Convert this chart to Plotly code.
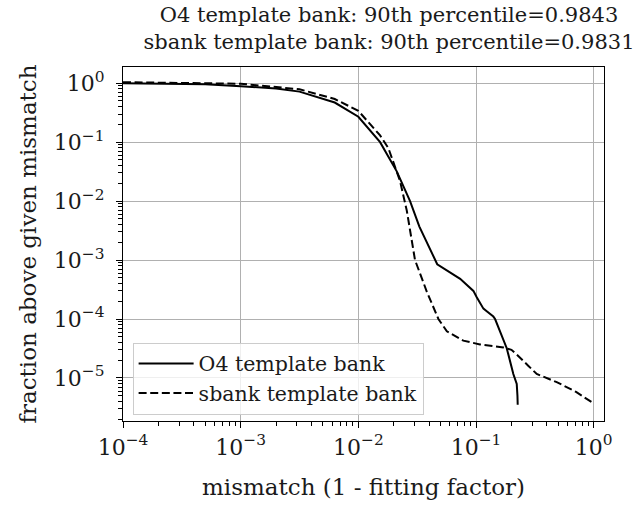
import plotly.graph_objects as go

# --- data (mismatch, fraction above) ---
o4_mismatch = [1.0e-4, 2.0e-4, 5.0e-4, 1.0e-3, 2.0e-3, 3.16e-3, 6.3e-3, 1.0e-2,
               0.0153, 0.0212, 0.0275, 0.033, 0.0407, 0.0468, 0.0733, 0.095,
               0.1014, 0.1156, 0.1233, 0.1403, 0.1452, 0.1824, 0.2075, 0.2218,
               0.2249, 0.226]
o4_fraction = [1.0, 0.99, 0.96, 0.89, 0.81, 0.72, 0.47, 0.27,
               0.10, 0.032, 0.010, 3.7e-3, 1.5e-3, 8.5e-4, 4.8e-4, 3.0e-4,
               2.35e-4, 1.5e-4, 1.35e-4, 1.1e-4, 1.0e-4, 3.2e-5, 1.17e-5, 7.9e-6,
               5.0e-6, 3.5e-6]

sbank_mismatch = [1.0e-4, 3.16e-4, 1.0e-3, 3.16e-3, 6.3e-3, 1.0e-2, 0.0153, 0.018,
                  0.0226, 0.0258, 0.0285, 0.0303, 0.0382, 0.0479, 0.0565, 0.078,
                  0.108, 0.171, 0.20, 0.222, 0.279, 0.328, 0.485, 0.708, 1.0]
sbank_fraction = [1.04, 1.02, 0.98, 0.79, 0.54, 0.34, 0.13, 0.079,
                  0.022, 6.9e-3, 1.9e-3, 1.0e-3, 2.9e-4, 1.0e-4, 6.2e-5, 4.3e-5,
                  3.7e-5, 3.3e-5, 3.0e-5, 2.5e-5, 1.6e-5, 1.17e-5, 8.5e-6, 5.8e-6, 3.7e-6]

x_ticks = [1e-4, 1e-3, 1e-2, 1e-1, 1e0]
x_tick_text = ["10<sup>−4</sup>", "10<sup>−3</sup>", "10<sup>−2</sup>", "10<sup>−1</sup>", "10<sup>0</sup>"]
y_ticks = [1e-5, 1e-4, 1e-3, 1e-2, 1e-1, 1e0]
y_tick_text = ["10<sup>−5</sup>", "10<sup>−4</sup>", "10<sup>−3</sup>", "10<sup>−2</sup>", "10<sup>−1</sup>", "10<sup>0</sup>"]

title_lines = ["O4 template bank: 90th percentile=0.9843",
               "sbank template bank: 90th percentile=0.9831"]

FONT = "DejaVu Serif"
INK = "#1a1a1a"

def minor_vals(lo, hi):
    vals = []
    for e in range(lo, hi + 1):
        for m in range(2, 10):
            vals.append(m * 10 ** e)
    return vals

fig = go.Figure()
fig.add_trace(go.Scatter(x=o4_mismatch, y=o4_fraction, mode="lines",
                         name="O4 template bank",
                         line=dict(color="black", width=2)))
fig.add_trace(go.Scatter(x=sbank_mismatch, y=sbank_fraction, mode="lines",
                         name="sbank template bank",
                         line=dict(color="black", width=2, dash="8px,3.6px")))

axis_common = dict(
    type="log",
    showline=True, linecolor="black", linewidth=1.2, mirror=True,
    ticks="outside", ticklen=6, tickwidth=1.2, tickcolor="black",
    showgrid=True, gridcolor="#b0b0b0", gridwidth=1,
    zeroline=False,
    tickfont=dict(family=FONT, size=22, color=INK),
    title_font=dict(family=FONT, size=23, color=INK),
)

fig.update_xaxes(**axis_common, range=[-4, 0.0875], tickmode="array",
                 tickvals=x_ticks, ticktext=x_tick_text,
                 title_text="mismatch (1 - fitting factor)", title_standoff=20,
                 minor=dict(tickmode="array", tickvals=minor_vals(-4, 0),
                            ticks="outside", ticklen=3.5, tickcolor="black",
                            showgrid=False))
fig.update_yaxes(**axis_common, range=[-5.73, 0.275], tickmode="array",
                 tickvals=y_ticks, ticktext=y_tick_text,
                 ticklabelstandoff=7,
                 title_text="fraction above given mismatch", title_standoff=10,
                 minor=dict(tickmode="array", tickvals=minor_vals(-6, 0),
                            ticks="outside", ticklen=3.5, tickcolor="black",
                            showgrid=False))

fig.update_layout(
    width=642, height=508,
    margin=dict(l=123, r=38, t=67, b=80),
    paper_bgcolor="white", plot_bgcolor="white",
    title=dict(text="<br>".join(title_lines), x=389 / 642, xanchor="center",
               xref="container", yref="container",
               y=1 - 22 / 508, yanchor="top",
               font=dict(family=FONT, size=21, color=INK)),
    font=dict(family=FONT, size=20, color=INK),
    legend=dict(x=0.02, y=0.018, xanchor="left", yanchor="bottom",
                bgcolor="rgba(255,255,255,0.8)", bordercolor="#cccccc",
                borderwidth=1, font=dict(family=FONT, size=20.5, color=INK),
                itemwidth=55, tracegroupgap=0),
    showlegend=True,
)

fig.write_html("out.html",
               config={"displayModeBar": False},
               post_script="document.body.style.margin='0';document.body.style.padding='0';")
